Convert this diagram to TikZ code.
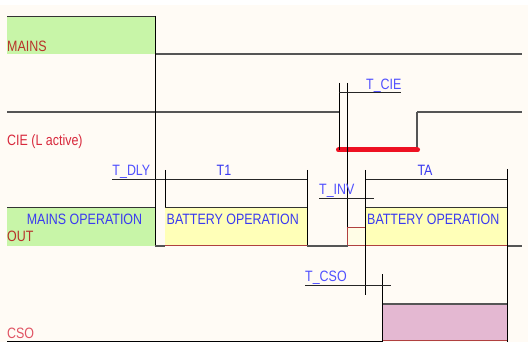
\documentclass[tikz,border=0pt]{standalone}
\usepackage{fontspec}
\newfontfamily\labfont[FakeStretch=0.83]{Liberation Sans}
\definecolor{bg}{HTML}{FFFBF5}
\definecolor{mgreen}{HTML}{C8F5A8}
\definecolor{myellow}{HTML}{FFFFB8}
\definecolor{mpink}{HTML}{E4B8D2}
\definecolor{lyellow}{HTML}{FFFDE6}
\definecolor{sig}{HTML}{555555}
\definecolor{tblue}{HTML}{3A3AF0}
\definecolor{dblue}{HTML}{5050FF}
\definecolor{lred}{HTML}{B8322A}
\definecolor{cred}{HTML}{D8283C}
\definecolor{bred}{HTML}{EE1122}
\definecolor{edgered}{HTML}{B04040}
\begin{document}
\begin{tikzpicture}[x=1pt,y=-1pt,
  siglab/.style={font=\labfont\fontsize{15}{16}\selectfont, inner sep=0pt, anchor=base west},
  sigline/.style={draw=sig, line width=1.3pt},
  vline/.style={draw=black, line width=0.9pt},
  dimline/.style={draw=black!85, line width=0.9pt},
  txt/.style={font=\labfont\fontsize{15}{16}\selectfont, inner sep=0pt, text=tblue},
  dimtxt/.style={font=\labfont\fontsize{15}{16}\selectfont, inner sep=0pt, text=dblue}]
\useasboundingbox (0,0) rectangle (528,342);
\fill[bg] (0,5) rectangle (528,342);
% MAINS
\fill[mgreen] (7,16) rectangle (155,54);
\draw[line width=1.1pt, black!80] (7,16.5) -- (155,16.5);
\node[siglab, text=lred] (lmains) at (7,51.5) {MAINS};
\coordinate (mA) at (155,54);
\coordinate (mB) at (522,54);
\draw[sigline] (mA) -- (mB);
% CIE
\coordinate (c0) at (7,112);
\coordinate (c1) at (339,112);
\coordinate (c2) at (417,112);
\coordinate (c3) at (522,112);
\draw[sigline] (c0) -- (c1);
\draw[sigline] (c2) -- (c3);
\draw[sigline] (417,150) -- (c2);
\node[siglab, text=cred] (lcie) at (7,146) {CIE (L active)};
\draw[bred, line width=5pt, line cap=round] (338.5,150) -- (417.5,150);
% verticals
\draw[vline] (155,16) -- (155,246);
\draw[vline] (339,83) -- (339,150);
\draw[vline] (347.5,83) -- (347.5,246);
% T_CIE
\draw[dimline] (339,92.5) -- (401,92.5);
\node[dimtxt, anchor=base west] (tcie) at (366,90) {T\_CIE};
% T_DLY / T1
\draw[dimline] (112,179) -- (307,179);
\node[dimtxt, anchor=base east] (tdly) at (150.5,175.5) {T\_DLY};
\node[txt, anchor=base] (t1) at (224,175.5) {T1};
\draw[vline] (165,170) -- (165,246);
\draw[vline] (307,170) -- (307,246);
% OUT boxes
\fill[mgreen] (7,207) rectangle (155,246);
\draw[line width=1pt, black!80] (7,207.5) -- (155,207.5);
\fill[myellow] (165,207) rectangle (307,246);
\draw[line width=1pt, black!80] (165,207.5) -- (307,207.5);
\draw[line width=1pt, edgered] (165,245.5) -- (307,245.5);
\fill[myellow] (365,207) rectangle (507,246);
\draw[line width=1pt, black!80] (365,207.5) -- (507,207.5);
\draw[line width=1pt, edgered] (365,245.5) -- (507,245.5);
\draw[line width=0.9pt, edgered, fill=lyellow] (347.5,227) rectangle (365,245.5);
\draw[sigline] (155,246) -- (165,246);
\draw[sigline] (307,246) -- (347.5,246);
\draw[sigline] (507,246) -- (522,246);
\node[txt, anchor=base] (mop) at (84.5,225) {MAINS OPERATION};
\node[txt, anchor=base west] (bop1) at (166.5,225) {BATTERY OPERATION};
\node[txt, anchor=base west] (bop2) at (367,225) {BATTERY OPERATION};
\node[siglab, text=lred] (lout) at (7,242) {OUT};
% T_INV
\draw[dimline] (319,198.5) -- (373.5,198.5);
\node[dimtxt, anchor=base west] (tinv) at (319,195) {T\_INV};
% TA
\draw[dimline] (365,179) -- (507,179);
\node[txt, anchor=base] (ta) at (425,175.5) {TA};
\draw[vline] (365,170) -- (365,294.5);
\draw[vline] (507.3,169) -- (507.3,342);
% CSO
\fill[mpink] (382,304) rectangle (507,341);
\draw[line width=1.1pt, sig] (382,304) -- (507,304);
\draw[line width=1pt, edgered] (382,340.8) -- (507,340.8);
\draw[line width=1.1pt, black] (7,341.3) -- (382,341.3);
\draw[vline] (382.3,274) -- (382.3,342);
\draw[dimline] (305,285) -- (391,285);
\node[dimtxt, anchor=base west] (tcso) at (305,281) {T\_CSO};
\node[siglab, text=cred!80!white] (lcso) at (7,338) {CSO};
\end{tikzpicture}
\end{document}
